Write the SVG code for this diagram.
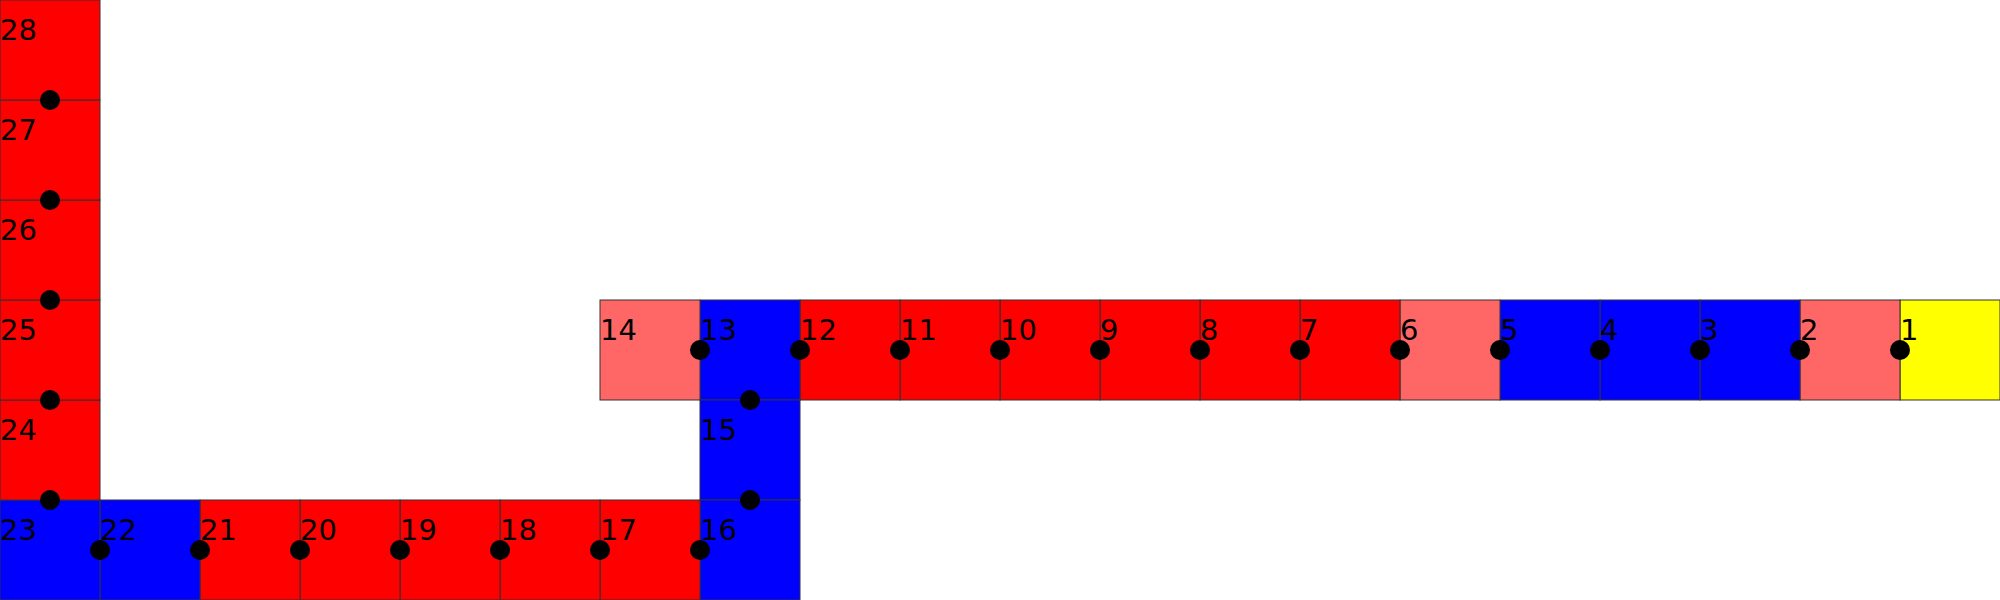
<svg xmlns="http://www.w3.org/2000/svg" width="2000" height="600" viewBox="0 0 2000 600">
<style>
.c{stroke:#333;stroke-width:1}
.r{fill:#ff0000}.b{fill:#0000ff}.p{fill:#ff6666}.y{fill:#ffff00}
text{font-family:"DejaVu Sans",sans-serif;font-size:29px;fill:#000}
.d{fill:#000}
</style>
<rect width="2000" height="600" fill="#fff"/>
<g id="n1"><rect class="c y" x="1900" y="300" width="100" height="100"/><text x="1900" y="340">1</text></g>
<g id="n2"><rect class="c p" x="1800" y="300" width="100" height="100"/><text x="1800" y="340">2</text></g>
<g id="n3"><rect class="c b" x="1700" y="300" width="100" height="100"/><text x="1700" y="340">3</text></g>
<g id="n4"><rect class="c b" x="1600" y="300" width="100" height="100"/><text x="1600" y="340">4</text></g>
<g id="n5"><rect class="c b" x="1500" y="300" width="100" height="100"/><text x="1500" y="340">5</text></g>
<g id="n6"><rect class="c p" x="1400" y="300" width="100" height="100"/><text x="1400" y="340">6</text></g>
<g id="n7"><rect class="c r" x="1300" y="300" width="100" height="100"/><text x="1300" y="340">7</text></g>
<g id="n8"><rect class="c r" x="1200" y="300" width="100" height="100"/><text x="1200" y="340">8</text></g>
<g id="n9"><rect class="c r" x="1100" y="300" width="100" height="100"/><text x="1100" y="340">9</text></g>
<g id="n10"><rect class="c r" x="1000" y="300" width="100" height="100"/><text x="1000" y="340">10</text></g>
<g id="n11"><rect class="c r" x="900" y="300" width="100" height="100"/><text x="900" y="340">11</text></g>
<g id="n12"><rect class="c r" x="800" y="300" width="100" height="100"/><text x="800" y="340">12</text></g>
<g id="n13"><rect class="c b" x="700" y="300" width="100" height="100"/><text x="700" y="340">13</text></g>
<g id="n14"><rect class="c p" x="600" y="300" width="100" height="100"/><text x="600" y="340">14</text></g>
<g id="n15"><rect class="c b" x="700" y="400" width="100" height="100"/><text x="700" y="440">15</text></g>
<g id="n16"><rect class="c b" x="700" y="500" width="100" height="100"/><text x="700" y="540">16</text></g>
<g id="n17"><rect class="c r" x="600" y="500" width="100" height="100"/><text x="600" y="540">17</text></g>
<g id="n18"><rect class="c r" x="500" y="500" width="100" height="100"/><text x="500" y="540">18</text></g>
<g id="n19"><rect class="c r" x="400" y="500" width="100" height="100"/><text x="400" y="540">19</text></g>
<g id="n20"><rect class="c r" x="300" y="500" width="100" height="100"/><text x="300" y="540">20</text></g>
<g id="n21"><rect class="c r" x="200" y="500" width="100" height="100"/><text x="200" y="540">21</text></g>
<g id="n22"><rect class="c b" x="100" y="500" width="100" height="100"/><text x="100" y="540">22</text></g>
<g id="n23"><rect class="c b" x="0" y="500" width="100" height="100"/><text x="0" y="540">23</text></g>
<g id="n24"><rect class="c r" x="0" y="400" width="100" height="100"/><text x="0" y="440">24</text></g>
<g id="n25"><rect class="c r" x="0" y="300" width="100" height="100"/><text x="0" y="340">25</text></g>
<g id="n26"><rect class="c r" x="0" y="200" width="100" height="100"/><text x="0" y="240">26</text></g>
<g id="n27"><rect class="c r" x="0" y="100" width="100" height="100"/><text x="0" y="140">27</text></g>
<g id="n28"><rect class="c r" x="0" y="0" width="100" height="100"/><text x="0" y="40">28</text></g>
<g id="connectors">
<circle class="d" cx="1900" cy="350" r="10"/>
<circle class="d" cx="1800" cy="350" r="10"/>
<circle class="d" cx="1700" cy="350" r="10"/>
<circle class="d" cx="1600" cy="350" r="10"/>
<circle class="d" cx="1500" cy="350" r="10"/>
<circle class="d" cx="1400" cy="350" r="10"/>
<circle class="d" cx="1300" cy="350" r="10"/>
<circle class="d" cx="1200" cy="350" r="10"/>
<circle class="d" cx="1100" cy="350" r="10"/>
<circle class="d" cx="1000" cy="350" r="10"/>
<circle class="d" cx="900" cy="350" r="10"/>
<circle class="d" cx="800" cy="350" r="10"/>
<circle class="d" cx="700" cy="350" r="10"/>
<circle class="d" cx="750" cy="400" r="10"/>
<circle class="d" cx="750" cy="500" r="10"/>
<circle class="d" cx="700" cy="550" r="10"/>
<circle class="d" cx="600" cy="550" r="10"/>
<circle class="d" cx="500" cy="550" r="10"/>
<circle class="d" cx="400" cy="550" r="10"/>
<circle class="d" cx="300" cy="550" r="10"/>
<circle class="d" cx="200" cy="550" r="10"/>
<circle class="d" cx="100" cy="550" r="10"/>
<circle class="d" cx="50" cy="500" r="10"/>
<circle class="d" cx="50" cy="400" r="10"/>
<circle class="d" cx="50" cy="300" r="10"/>
<circle class="d" cx="50" cy="200" r="10"/>
<circle class="d" cx="50" cy="100" r="10"/>
</g>
</svg>
